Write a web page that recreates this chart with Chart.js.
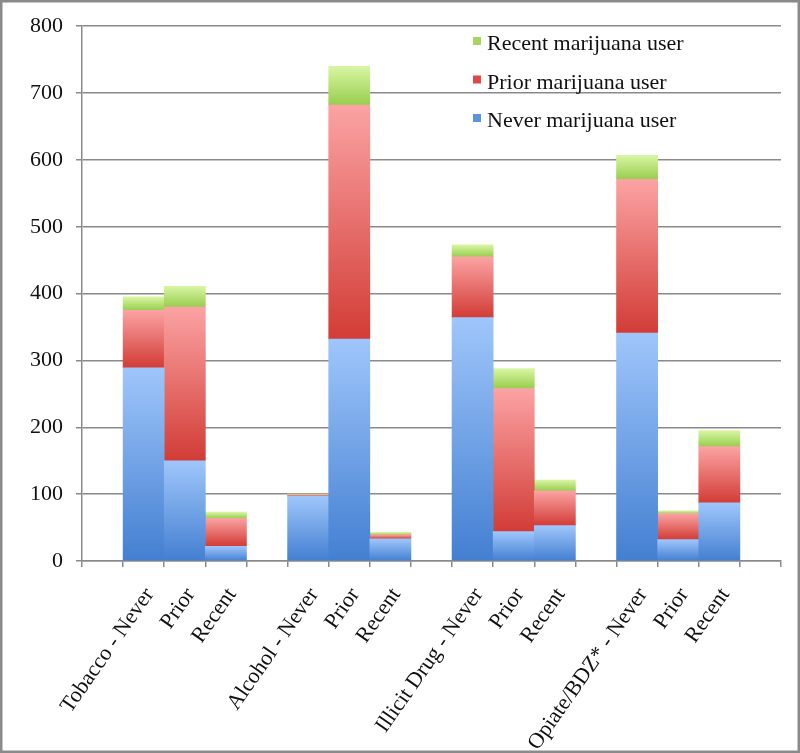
<!DOCTYPE html>
<html>
<head>
<meta charset="utf-8">
<script src="https://cdn.jsdelivr.net/npm/chart.js@4/dist/chart.umd.min.js"></script>
<style>
  html, body { margin: 0; padding: 0; background: #fff; }
  #wrap { width: 800px; height: 753px; position: relative; }
</style>
</head>
<body>
<div id="wrap"><canvas id="useChart"></canvas></div>
<script>
// categories (blank ones are the gaps between groups)
const categories = ['', 'Tobacco - Never', 'Prior', 'Recent', '',
  'Alcohol - Never', 'Prior', 'Recent', '',
  'Illicit Drug - Never', 'Prior', 'Recent', '',
  'Opiate/BDZ* - Never', 'Prior', 'Recent', ''];

// values
const neverUser  = [null, 289, 150, 22, null, 97, 332, 33, null, 364, 44, 53, null, 341, 32, 87, null];
const priorUser  = [null, 86, 230, 42, null, 2, 350, 6, null, 91, 214, 52, null, 230, 39, 84, null];
const recentUser = [null, 20, 31, 9, null, 1, 58, 4, null, 18, 30, 16, null, 36, 4, 24, null];

const yTicks = [0, 100, 200, 300, 400, 500, 600, 700, 800];

const seriesList = [neverUser, priorUser, recentUser];

// light top -> dark bottom, like the original bars
function barFill(dsIndex, topColor, bottomColor) {
  return function(ctx) {
    const chart = ctx.chart;
    const ys = chart.scales.y;
    if (!chart.chartArea || !ys || ctx.type !== 'data') return bottomColor;
    const i = ctx.dataIndex;
    let base = 0;
    for (let d = 0; d < dsIndex; d++) base += seriesList[d][i] || 0;
    const top = base + (seriesList[dsIndex][i] || 0);
    const y0 = ys.getPixelForValue(base);
    const y1 = ys.getPixelForValue(top);
    if (!isFinite(y0) || !isFinite(y1) || y0 === y1) return bottomColor;
    const g = chart.ctx.createLinearGradient(0, y1, 0, y0);
    g.addColorStop(0, topColor);
    g.addColorStop(1, bottomColor);
    return g;
  };
}

const serif = '"Liberation Serif", "Times New Roman", serif';

// legend drawn inside the plot, top right, reversed order
const insideLegend = {
  id: 'insideLegend',
  afterDraw(chart) {
    const c = chart.ctx;
    c.save();
    c.font = '22px ' + serif;
    c.textBaseline = 'alphabetic';
    const rows = chart.data.datasets.slice().reverse();
    rows.forEach((ds, k) => {
      const baseY = 50 + k * 38.5;
      c.fillStyle = ds.legendColor;
      c.fillRect(473, baseY - 13, 8, 8);
      c.fillStyle = '#111';
      c.fillText(ds.label, 487, baseY);
    });
    c.restore();
  }
};

const frame = {
  id: 'frame',
  beforeDraw(chart) {
    const c = chart.ctx;
    c.save();
    c.fillStyle = '#fff';
    c.fillRect(0, 0, chart.width, chart.height);
    c.restore();
  },
  afterDraw(chart) {
    const c = chart.ctx;
    c.save();
    c.strokeStyle = '#8a8a8a';
    c.lineWidth = 3;
    c.strokeRect(1, 1, chart.width - 2, chart.height - 2);
    c.restore();
  }
};

new Chart(document.getElementById('useChart'), {
  type: 'bar',
  data: {
    labels: categories,
    datasets: [
      { label: 'Never marijuana user', data: neverUser,
        backgroundColor: barFill(0, '#9fc6fb', '#437fd1'), legendColor: '#5b93e0' },
      { label: 'Prior marijuana user', data: priorUser,
        backgroundColor: barFill(1, '#fba3a3', '#d23c36'), legendColor: '#e04848' },
      { label: 'Recent marijuana user', data: recentUser,
        backgroundColor: barFill(2, '#d9f6a3', '#98cd4e'), legendColor: '#a6d65c' }
    ]
  },
  options: {
    responsive: true,
    maintainAspectRatio: false,
    animation: false,
    barPercentage: 1,
    categoryPercentage: 1,
    layout: { padding: { top: 22, right: 19, left: 0, bottom: 0 } },
    plugins: {
      legend: { display: false },
      tooltip: { enabled: false }
    },
    scales: {
      x: {
        stacked: true,
        grid: { drawOnChartArea: false, color: '#8a8a8a', lineWidth: 1.5, tickLength: 6 },
        border: { color: '#8a8a8a', width: 1.5 },
        ticks: {
          autoSkip: false, maxRotation: 55, minRotation: 55,
          color: '#111', padding: 16, labelOffset: 6,
          font: { family: serif, size: 22 }
        },
        afterFit(scale) { scale.height = 192; }
      },
      y: {
        stacked: true,
        min: 0, max: 800,
        grid: { color: '#8a8a8a', lineWidth: 1.5, tickLength: 6 },
        border: { color: '#8a8a8a', width: 1.5 },
        afterBuildTicks(scale) { scale.ticks = yTicks.map(v => ({ value: v })); },
        ticks: {
          color: '#111', padding: 13,
          font: { family: serif, size: 22 }
        },
        afterFit(scale) { scale.width = 82; }
      }
    }
  },
  plugins: [frame, insideLegend]
});
</script>
</body>
</html>
